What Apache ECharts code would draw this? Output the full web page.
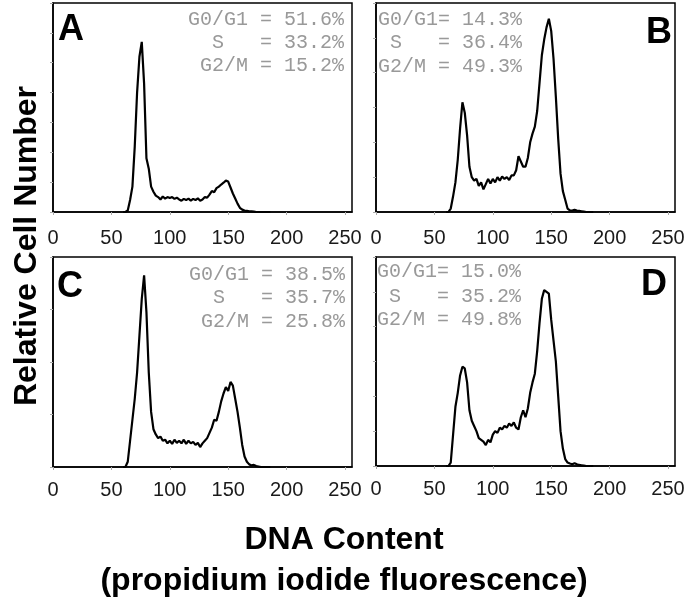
<!DOCTYPE html>
<html>
<head>
<meta charset="utf-8">
<script src="https://cdn.jsdelivr.net/npm/echarts@6/dist/echarts.min.js"></script>
<style>
html,body{margin:0;padding:0;background:#fff;}
#chart{width:688px;height:601px;}
</style>
</head>
<body>
<div id="chart"></div>
<script>
// DNA content channels (x values)
var channels = [60,62,64,66,68,70,72,74,76,78,
  80,82,84,86,88,90,92,94,96,98,
  100,102,104,106,108,110,112,114,116,118,
  120,122,124,126,128,130,132,134,136,138,
  140,142,144,146,148,150,152,154,156,158,
  160,162,164,166,168,170,172,174,176,178,
  180,182,184,186];

var countsA = [0,0,0.05,0.4,0.85,2.2,4.0,5.2,5.7,4.3,
  1.8,1.45,0.85,0.68,0.55,0.5,0.42,0.52,0.45,0.5,
  0.47,0.5,0.44,0.48,0.42,0.38,0.44,0.4,0.45,0.38,
  0.44,0.4,0.46,0.38,0.42,0.5,0.48,0.58,0.7,0.66,
  0.8,0.85,0.92,0.98,1.05,1.02,0.82,0.62,0.45,0.28,
  0.14,0.08,0.05,0.04,0.02,0.02,0.01,0,0,0,
  0,0,0,0];

var countsB = [0,0,0.1,0.45,0.85,1.5,2.4,3.15,2.85,2.2,
  1.3,1.0,0.9,0.95,0.75,0.85,0.65,0.8,0.95,0.82,
  0.95,0.85,1.0,0.9,1.02,0.95,1.0,0.92,1.05,1.05,
  1.2,1.6,1.45,1.3,1.3,1.55,2.0,2.25,2.45,2.9,
  3.7,4.5,4.95,5.3,5.55,5.2,4.4,3.3,2.1,1.1,
  0.6,0.35,0.1,0.05,0.04,0.06,0.04,0.03,0.02,0.01,
  0,0,0,0];

var countsC = [0,0,0.1,0.5,0.9,1.3,1.8,2.5,3.2,3.65,
  2.95,1.8,1.05,0.72,0.62,0.55,0.58,0.5,0.52,0.45,
  0.5,0.44,0.52,0.46,0.5,0.45,0.52,0.44,0.5,0.45,
  0.48,0.42,0.46,0.38,0.45,0.5,0.55,0.65,0.75,0.9,
  0.88,1.05,1.25,1.4,1.52,1.45,1.62,1.55,1.3,1.05,
  0.75,0.42,0.2,0.1,0.05,0.03,0.04,0.02,0.01,0,
  0,0,0,0];

var countsD = [0,0,0.1,0.9,1.7,2.1,2.6,2.85,2.8,2.4,
  1.6,1.3,1.15,1.0,0.8,0.75,0.7,0.6,0.75,0.68,
  0.9,1.0,0.95,1.1,1.05,1.15,1.1,1.22,1.15,1.25,
  1.1,1.05,1.4,1.6,1.4,1.65,2.1,2.4,2.65,3.3,
  4.1,4.8,5.05,5.0,4.95,4.2,3.6,3.0,2.0,1.0,
  0.5,0.2,0.1,0.07,0.05,0.08,0.05,0.03,0.02,0.01,
  0,0,0,0];

var panelLetters = ['A','B','C','D'];
var statsA = ['G0/G1 = 51.6%','  S   = 33.2%',' G2/M = 15.2%'];
var statsB = ['G0/G1= 14.3%',' S   = 36.4%','G2/M = 49.3%'];
var statsC = ['G0/G1 = 38.5%','  S   = 35.7%',' G2/M = 25.8%'];
var statsD = ['G0/G1= 15.0%',' S   = 35.2%','G2/M = 49.8%'];
var yMaxes = [7,6,4,6];
var yTitle = 'Relative Cell Number';
var xTitle1 = 'DNA Content';
var xTitle2 = '(propidium iodide fluorescence)';

var chart = echarts.init(document.getElementById('chart'), null, {renderer:'canvas'});
var grids = [
  {left:53, top:3, width:299, height:209},
  {left:376, top:3, width:299, height:209},
  {left:53, top:257, width:299, height:210},
  {left:376, top:257, width:299, height:209}
];
var labelMargins = [16,16,13,13];
var allCounts = [countsA,countsB,countsC,countsD];

function pairs(arr){ return channels.map(function(c,i){return [c,arr[i]];}); }

var xAxes = [], yAxes = [], series = [];
for (var i=0;i<4;i++){
  xAxes.push({
    gridIndex:i, type:'value', min:0, max:256, interval:50,
    axisLine:{show:true, lineStyle:{color:'#000', width:1.5}},
    axisTick:{show:true, inside:false, length:3, lineStyle:{color:'#aaa', width:1}},
    axisLabel:{show:true, margin:labelMargins[i], fontFamily:'Liberation Sans, Arial', fontSize:20, color:'#1a1a1a',
      showMaxLabel:false},
    splitLine:{show:false}
  });
  yAxes.push({
    gridIndex:i, type:'value', min:0, max:yMaxes[i], interval:1,
    axisLine:{show:true, lineStyle:{color:'#000', width:1.5}},
    axisTick:{show:true, inside:false, length:3, lineStyle:{color:'#aaa', width:1}},
    axisLabel:{show:false},
    splitLine:{show:false}
  });
  series.push({
    type:'line', xAxisIndex:i, yAxisIndex:i, data:pairs(allCounts[i]),
    showSymbol:false, symbol:'none', smooth:false,
    lineStyle:{color:'#000', width:2.2}, silent:true
  });
}
grids.forEach(function(g){ g.show=true; g.borderColor='#000'; g.borderWidth=1.5; g.backgroundColor='#fff'; });

function textEl(x,y,txt,opts){
  var st = {text:txt, fill:opts.fill||'#000', fontSize:opts.fontSize, fontFamily:opts.fontFamily,
    fontWeight:opts.fontWeight||'normal', textAlign:opts.align||'left', align:opts.align||'left',
    textVerticalAlign:'middle', verticalAlign:'middle'};
  var el = {type:'text', x:x, y:y, style:st, silent:true, z:100};
  if (opts.rotation) el.rotation = opts.rotation;
  if (opts.scaleX) el.scaleX = opts.scaleX;
  return el;
}
var graphics = [];
var letterPos = [[58,30,'left'],[672,33,'right'],[57,287,'left'],[667,285,'right']];
letterPos.forEach(function(p,i){
  graphics.push(textEl(p[0],p[1],panelLetters[i],{fontSize:36,fontWeight:'bold',fontFamily:'Liberation Sans, Arial',align:p[2]}));
});
var statsSets = [statsA,statsB,statsC,statsD];
var statsPos = [[344,[20,43,66],'right'],[378,[20,43,67],'left'],[345,[275,298,322],'right'],[377,[272,297,320],'left']];
statsPos.forEach(function(p,i){
  statsSets[i].forEach(function(line,k){
    graphics.push(textEl(p[0],p[1][k],line,{fontSize:20,fontFamily:'Liberation Mono, Courier New, monospace',fill:'#999999',align:p[2]}));
  });
});
graphics.push(textEl(27,246,yTitle,{fontSize:32,fontWeight:'bold',fontFamily:'Liberation Sans, Arial',align:'center',rotation:Math.PI/2}));
graphics.push(textEl(344,540,xTitle1,{fontSize:32,fontWeight:'bold',fontFamily:'Liberation Sans, Arial',align:'center'}));
graphics.push(textEl(344,581,xTitle2,{fontSize:32,fontWeight:'bold',fontFamily:'Liberation Sans, Arial',align:'center'}));

chart.setOption({
  animation:false,
  backgroundColor:'#fff',
  grid:grids, xAxis:xAxes, yAxis:yAxes, series:series,
  graphic:graphics
});
</script>
</body>
</html>
